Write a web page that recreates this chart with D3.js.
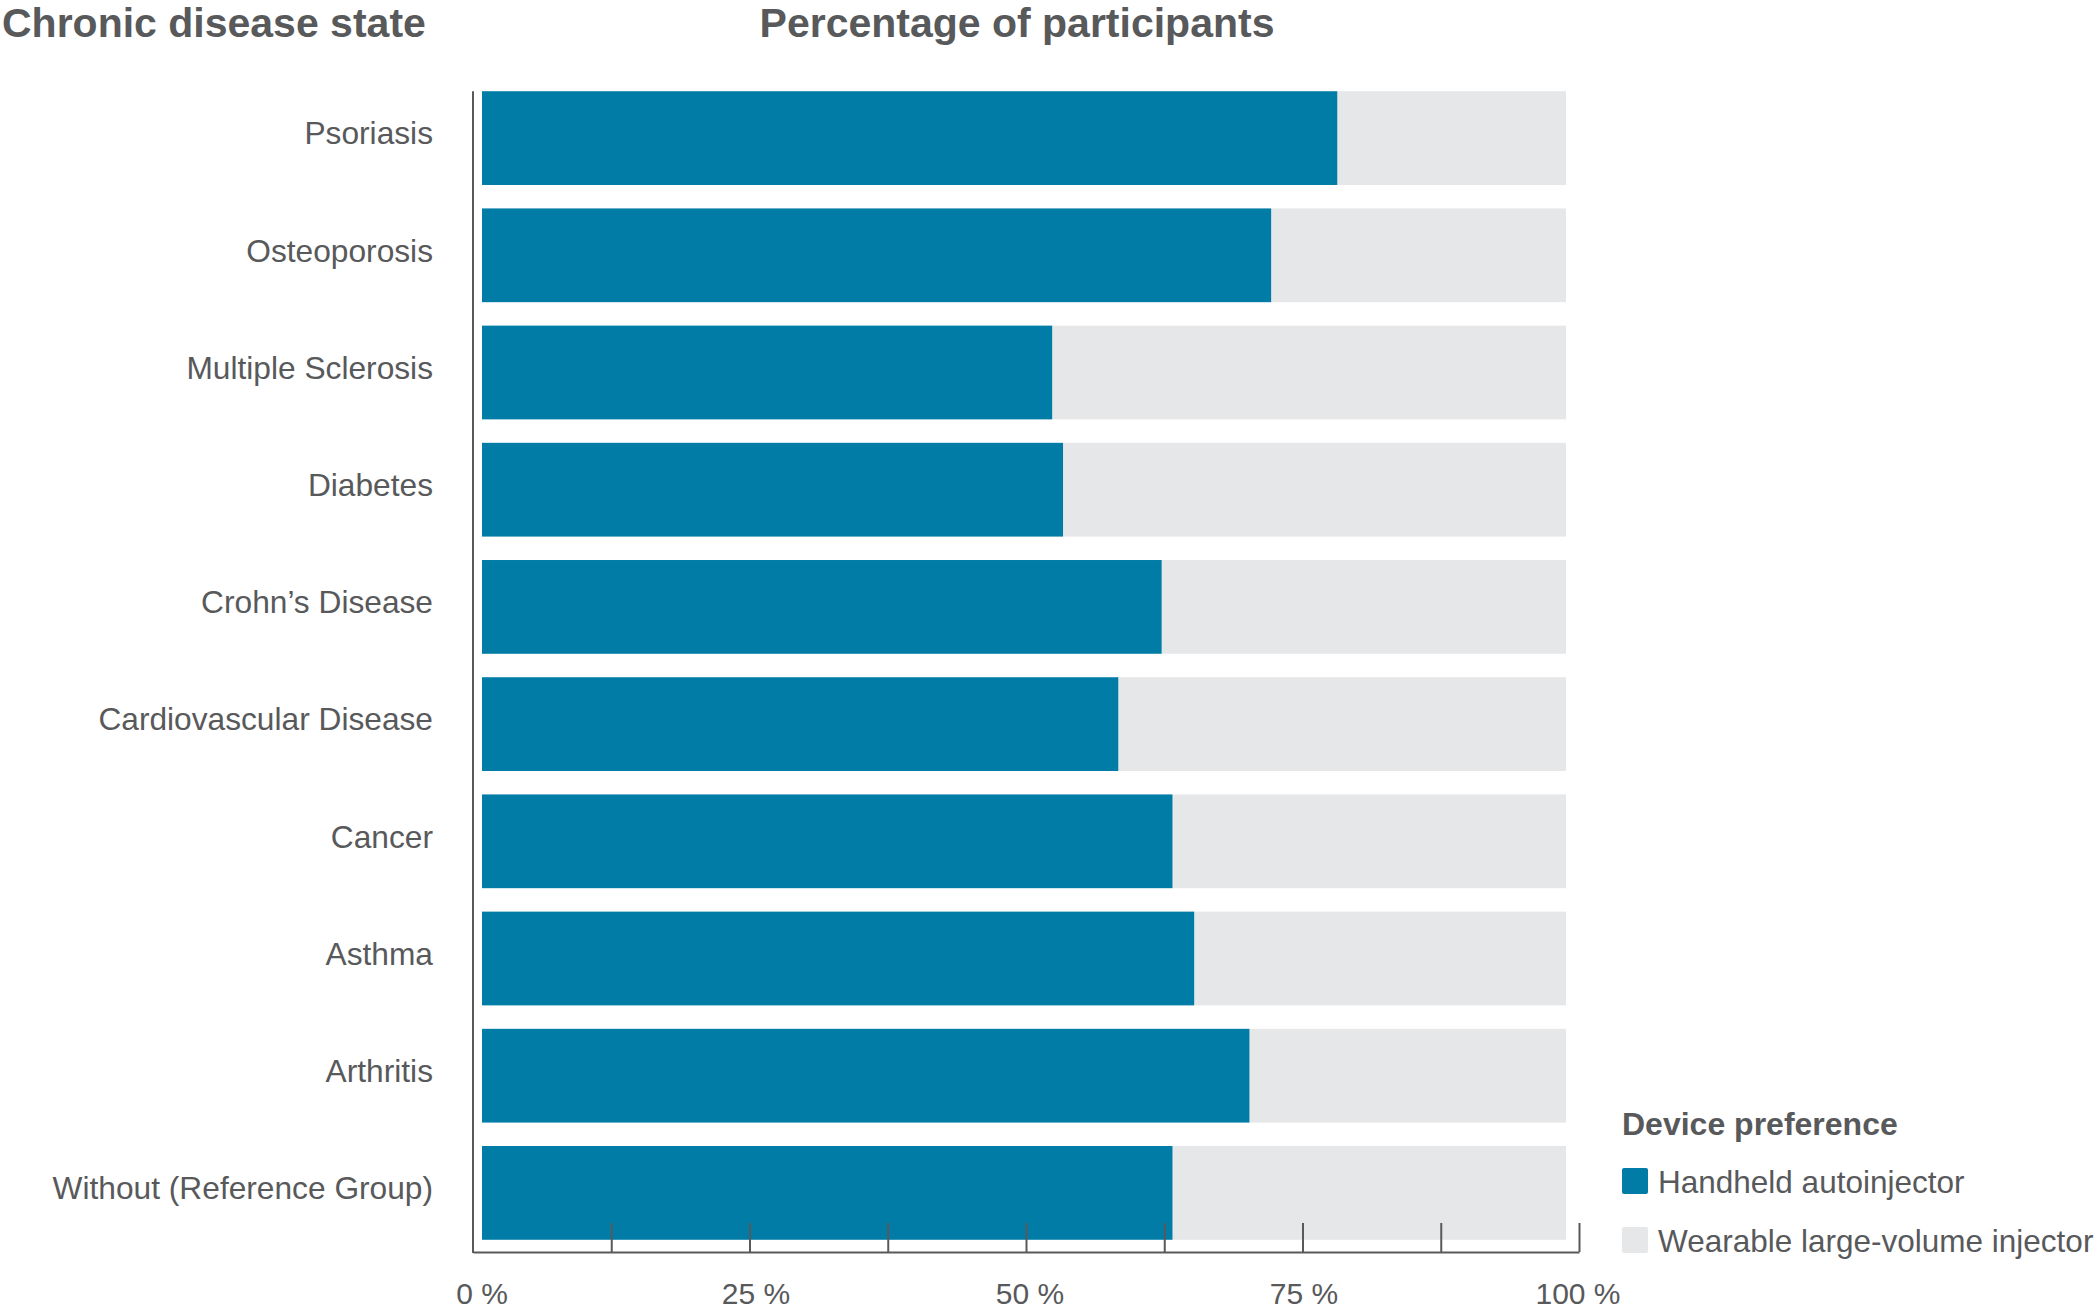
<!DOCTYPE html>
<html>
<head>
<meta charset="utf-8">
<script src="https://cdn.jsdelivr.net/npm/d3@7"></script>
<style>
  html, body { margin: 0; padding: 0; background: #ffffff; }
  svg { display: block; }
  text { font-family: "Liberation Sans", Arial, Helvetica, sans-serif; fill: #58595b; }
</style>
</head>
<body>
<svg id="chart" width="2099" height="1312"></svg>
<script>
const categories = [
  "Psoriasis",
  "Osteoporosis",
  "Multiple Sclerosis",
  "Diabetes",
  "Crohn\u2019s Disease",
  "Cardiovascular Disease",
  "Cancer",
  "Asthma",
  "Arthritis",
  "Without (Reference Group)"
];
const handheld = [78.9, 72.8, 52.6, 53.6, 62.7, 58.7, 63.7, 65.7, 70.8, 63.7];
const wearable = [21.1, 27.2, 47.4, 46.4, 37.3, 41.3, 36.3, 34.3, 29.2, 36.3];
const seriesNames = ["Handheld autoinjector", "Wearable large-volume injector"];
const seriesColors = ["#017ca6", "#e6e7e8"];
const tickValues = [12.5, 25, 37.5, 50, 62.5, 75, 87.5, 100];
const tickLabelValues = [0, 25, 50, 75, 100];
const tickLabels = ["0 %", "25 %", "50 %", "75 %", "100 %"];
const titleLeft = "Chronic disease state";
const titleTop = "Percentage of participants";
const legendTitle = "Device preference";

const svg = d3.select("#chart");
const ink = "#58595b";

// scales
const axisX = d3.scaleLinear().domain([0, 100]).range([473, 1579]);
const barX = d3.scaleLinear().domain([0, 100]).range([482, 1566]);
const labelX = d3.scaleLinear().domain([0, 100]).range([482, 1578]);
const y = d3.scaleBand().domain(categories).range([79.5, 1251.5])
  .paddingInner(0.2).paddingOuter(0.1);
const axisY = 1252;

// stacked data
const rows = categories.map((c, i) => ({ cat: c, a: handheld[i], b: wearable[i] }));

const g = svg.append("g");
// wearable (grey) segments
g.selectAll("rect.wear").data(rows).join("rect")
  .attr("class", "wear")
  .attr("x", d => barX(d.a))
  .attr("width", d => barX(d.a + d.b) - barX(d.a))
  .attr("y", d => y(d.cat))
  .attr("height", y.bandwidth())
  .attr("fill", seriesColors[1]);
// handheld (blue) segments
g.selectAll("rect.hand").data(rows).join("rect")
  .attr("class", "hand")
  .attr("x", barX(0))
  .attr("width", d => barX(d.a) - barX(0))
  .attr("y", d => y(d.cat))
  .attr("height", y.bandwidth())
  .attr("fill", seriesColors[0]);

// category labels via axisLeft
const yAxis = svg.append("g")
  .attr("transform", `translate(${axisX(0)},0)`)
  .call(d3.axisLeft(y).tickSize(0).tickPadding(40));
yAxis.select(".domain").remove();
yAxis.selectAll("text")
  .style("font-size", "31.7px")
  .attr("fill", ink)
  .attr("dy", "0.2em");

// vertical axis line
svg.append("line")
  .attr("x1", axisX(0)).attr("x2", axisX(0))
  .attr("y1", y(categories[0])).attr("y2", axisY + 1)
  .attr("stroke", ink).attr("stroke-width", 2);

// x axis with inward ticks
const xAxis = svg.append("g")
  .attr("transform", `translate(0,${axisY})`)
  .call(d3.axisBottom(axisX).tickValues(tickValues).tickSizeInner(-29).tickSizeOuter(0).tickFormat(""));
xAxis.select(".domain").attr("stroke", ink).attr("stroke-width", 2);
xAxis.selectAll(".tick line").attr("stroke", ink).attr("stroke-width", 2);

// tick labels
svg.append("g").selectAll("text").data(tickLabelValues).join("text")
  .attr("x", d => labelX(d))
  .attr("y", 1304)
  .attr("text-anchor", "middle")
  .style("font-size", "30px")
  .text((d, i) => tickLabels[i]);

// titles
svg.append("text")
  .attr("x", 2).attr("y", 37)
  .style("font-size", "41px").style("font-weight", "bold")
  .text(titleLeft);
svg.append("text")
  .attr("x", 1017).attr("y", 37)
  .attr("text-anchor", "middle")
  .style("font-size", "41px").style("font-weight", "bold")
  .text(titleTop);

// legend
const lg = svg.append("g").attr("transform", "translate(1622,0)");
lg.append("text")
  .attr("x", 0).attr("y", 1135)
  .style("font-size", "32px").style("font-weight", "bold")
  .text(legendTitle);
const legendRows = [1168, 1227];
seriesNames.forEach((name, i) => {
  lg.append("rect")
    .attr("x", 0).attr("y", legendRows[i])
    .attr("width", 26).attr("height", 26)
    .attr("rx", 2)
    .attr("fill", seriesColors[i]);
  lg.append("text")
    .attr("x", 36).attr("y", legendRows[i] + 25)
    .style("font-size", "31.5px")
    .text(name);
});
</script>
</body>
</html>
